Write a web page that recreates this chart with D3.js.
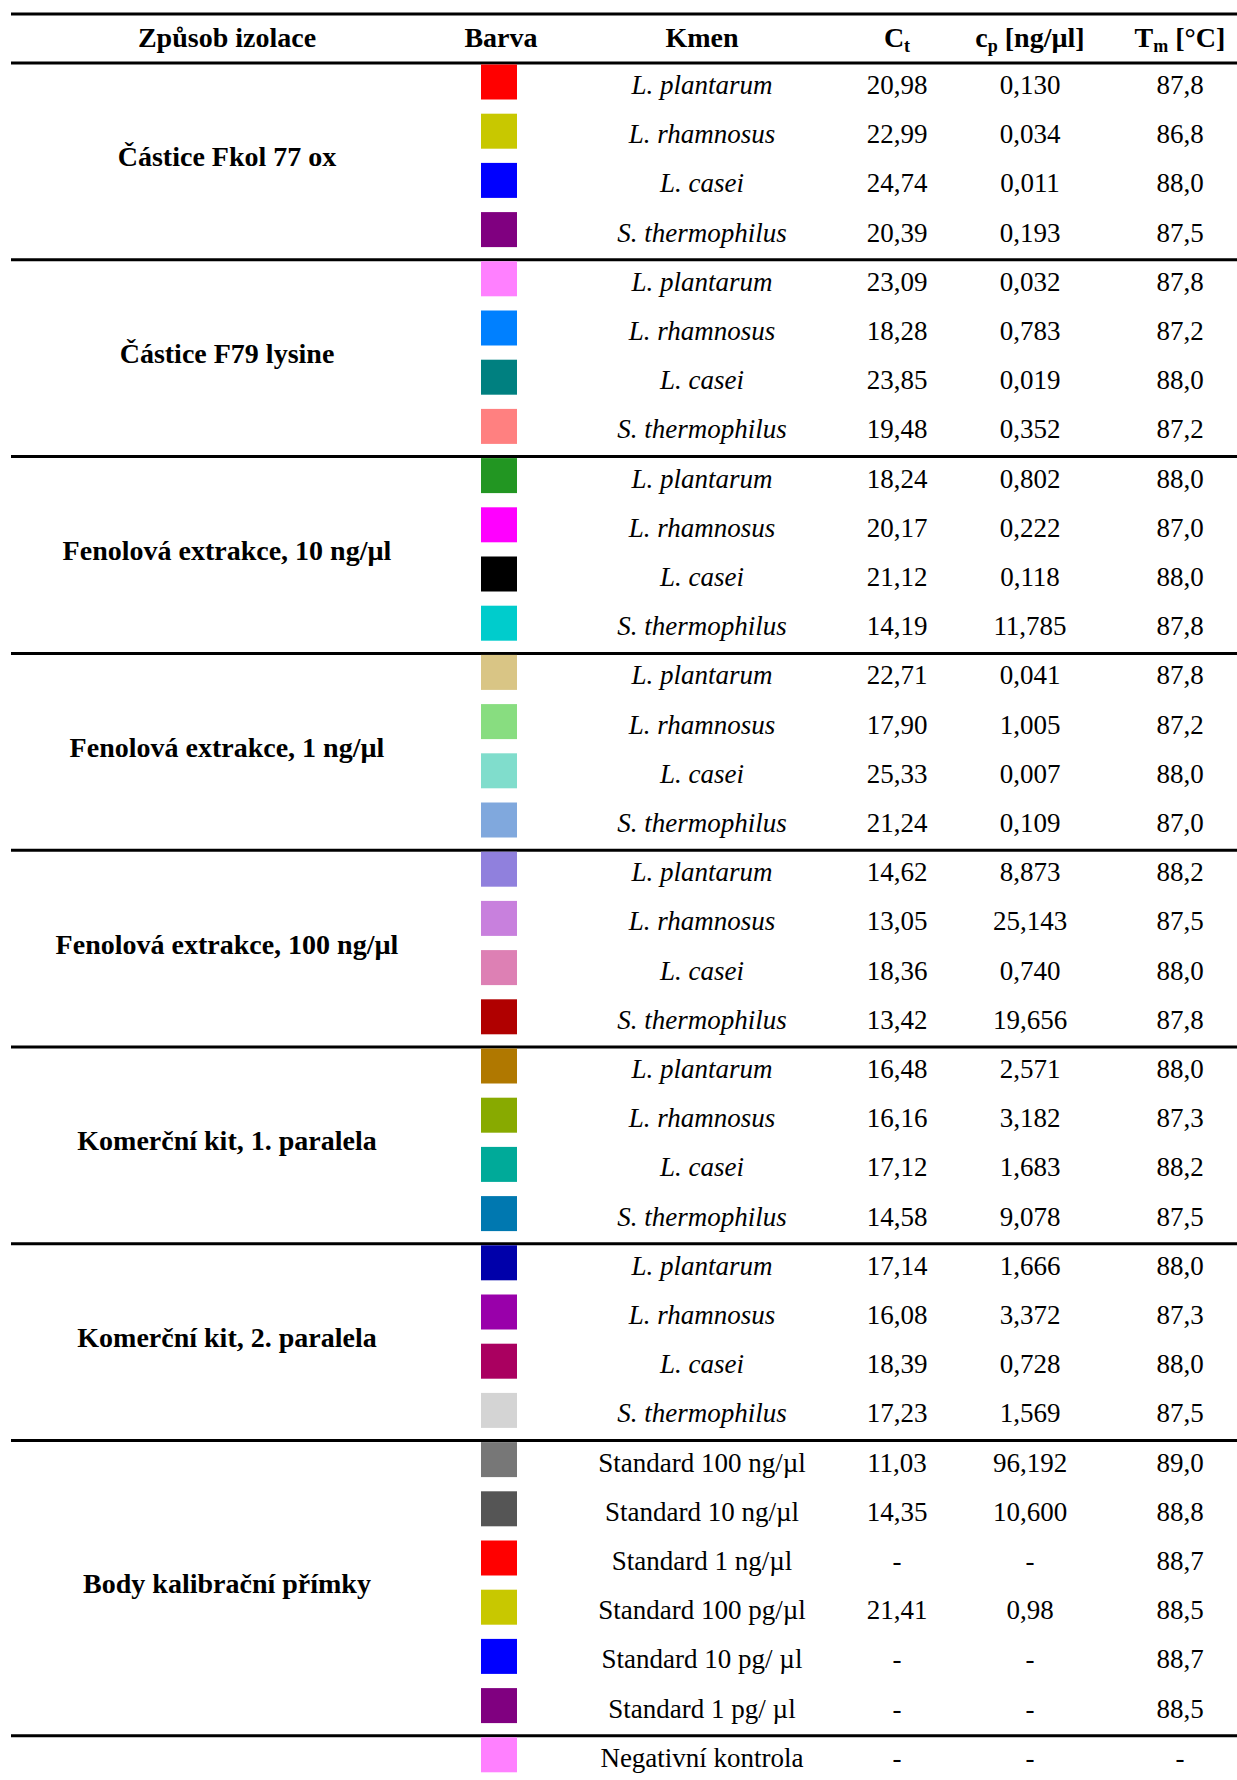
<!DOCTYPE html>
<html>
<head>
<meta charset="utf-8">
<script src="https://cdn.jsdelivr.net/npm/d3@7"></script>
<style>
  body { margin: 0; background: #fff; }
  text { font-family: "Times New Roman", Times, "Liberation Serif", serif; fill: #000; }
</style>
</head>
<body>
<svg id="tbl" width="1237" height="1780"></svg>
<script>
// table data
const methods = ["Částice Fkol 77 ox", "Částice F79 lysine", "Fenolová extrakce, 10 ng/µl",
    "Fenolová extrakce, 1 ng/µl", "Fenolová extrakce, 100 ng/µl", "Komerční kit, 1. paralela",
    "Komerční kit, 2. paralela", "Body kalibrační přímky", ""]
const groupSizes = [4, 4, 4, 4, 4, 4, 4, 6, 1]

const sp = ["L. plantarum", "L. rhamnosus", "L. casei", "S. thermophilus"]
const strains = [].concat(sp, sp, sp, sp, sp, sp, sp,
    ["Standard 100 ng/µl", "Standard 10 ng/µl", "Standard 1 ng/µl", "Standard 100 pg/µl",
     "Standard 10 pg/ µl", "Standard 1 pg/ µl", "Negativní kontrola"])

const colors = ["#ff0000", "#c8c800", "#0000ff", "#800080",
    "#ff80ff", "#0080ff", "#008080", "#ff8080",
    "#229622", "#ff00ff", "#000000", "#00cccc",
    "#d9c585", "#88dd80", "#80ddcc", "#80a8dd",
    "#9080dd", "#c880dd", "#dd80b4", "#b00000",
    "#b07800", "#88aa00", "#00aa99", "#0078b0",
    "#0000aa", "#9900aa", "#aa0060", "#d4d4d4",
    "#777777", "#555555", "#ff0000", "#c8c800", "#0000ff", "#800080",
    "#ff80ff"]

const ct = ["20,98", "22,99", "24,74", "20,39",
    "23,09", "18,28", "23,85", "19,48",
    "18,24", "20,17", "21,12", "14,19",
    "22,71", "17,90", "25,33", "21,24",
    "14,62", "13,05", "18,36", "13,42",
    "16,48", "16,16", "17,12", "14,58",
    "17,14", "16,08", "18,39", "17,23",
    "11,03", "14,35", "-", "21,41", "-", "-",
    "-"]

const cp = ["0,130", "0,034", "0,011", "0,193",
    "0,032", "0,783", "0,019", "0,352",
    "0,802", "0,222", "0,118", "11,785",
    "0,041", "1,005", "0,007", "0,109",
    "8,873", "25,143", "0,740", "19,656",
    "2,571", "3,182", "1,683", "9,078",
    "1,666", "3,372", "0,728", "1,569",
    "96,192", "10,600", "-", "0,98", "-", "-",
    "-"]

const tm = ["87,8", "86,8", "88,0", "87,5",
    "87,8", "87,2", "88,0", "87,2",
    "88,0", "87,0", "88,0", "87,8",
    "87,8", "87,2", "88,0", "87,0",
    "88,2", "87,5", "88,0", "87,8",
    "88,0", "87,3", "88,2", "87,5",
    "88,0", "87,3", "88,0", "87,5",
    "89,0", "88,8", "88,7", "88,5", "88,7", "88,5",
    "-"]

const columns = ["method", "color", "strain", "ct", "cp", "tm"]

const svg = d3.select('#tbl')
const fs = 27
const fsBold = 28
const topY = 14
const headH = 49

const x = d3.scaleOrdinal().domain(columns).range([227, 501, 702, 897, 1030, 1180])
const y = d3.scaleBand().domain(d3.range(strains.length)).range([topY + headH, topY + headH + strains.length * 49.2]).padding(0)

// group starts
let starts = [0]
groupSizes.forEach((n, i) => starts.push(starts[i] + n))

// horizontal rules
const rules = [topY, topY + headH].concat(starts.slice(1, -1).map(s => y(s)))
svg.selectAll('.rule').data(rules).enter().append('line')
    .attr('x1', 11).attr('x2', 1237).attr('y1', d => d).attr('y2', d => d)
    .style('stroke', 'black').style('stroke-width', 3)

// header
const head = svg.append('g').style('font-weight', 'bold').style('font-size', fsBold + 'px')
const hy = topY + 32.5
head.append('text').attr('x', x('method')).attr('y', hy).attr('text-anchor', 'middle').text('Způsob izolace')
head.append('text').attr('x', x('color')).attr('y', hy).attr('text-anchor', 'middle').text('Barva')
head.append('text').attr('x', x('strain')).attr('y', hy).attr('text-anchor', 'middle').text('Kmen')
let t = head.append('text').attr('x', x('ct')).attr('y', hy).attr('text-anchor', 'middle')
t.append('tspan').text('C')
t.append('tspan').attr('dy', 5).style('font-size', '18px').text('t')
t = head.append('text').attr('x', x('cp')).attr('y', hy).attr('text-anchor', 'middle')
t.append('tspan').text('c')
t.append('tspan').attr('dy', 5).style('font-size', '18px').text('p')
t.append('tspan').attr('dy', -5).text(' [ng/µl]')
t = head.append('text').attr('x', x('tm')).attr('y', hy).attr('text-anchor', 'middle')
t.append('tspan').text('T')
t.append('tspan').attr('dy', 5).style('font-size', '18px').text('m')
t.append('tspan').attr('dy', -5).text(' [°C]')

// method labels, centred on their group
svg.selectAll('.method').data(methods).enter().append('text')
    .attr('x', x('method'))
    .attr('y', (d, i) => (y(starts[i]) + y(starts[i + 1] - 1) + y.bandwidth()) / 2 + 5)
    .attr('text-anchor', 'middle').style('font-weight', 'bold').style('font-size', fsBold + 'px')
    .text(d => d)

// colour swatches
svg.selectAll('.swatch').data(colors).enter().append('rect')
    .attr('x', x('color') - 20).attr('y', (d, i) => y(i) + 1.5)
    .attr('width', 36).attr('height', 35).style('fill', d => d)

// cells
const cells = [['strain', strains], ['ct', ct], ['cp', cp], ['tm', tm]]
cells.forEach(([key, vals]) => {
    svg.selectAll('.c' + key).data(vals).enter().append('text')
        .attr('x', x(key)).attr('y', (d, i) => y(i) + 31)
        .attr('text-anchor', 'middle').style('font-size', fs + 'px')
        .style('font-style', d => key == 'strain' && /^[LS]\. /.test(d) ? 'italic' : 'normal')
        .text(d => d)
})
</script>
</body>
</html>
